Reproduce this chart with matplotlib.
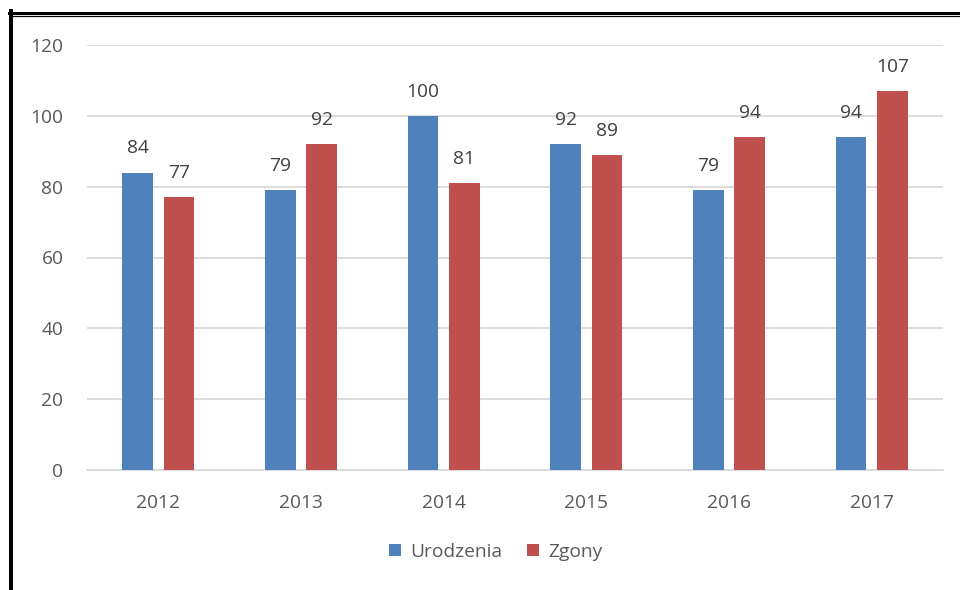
import matplotlib
matplotlib.use("Agg")
import matplotlib.pyplot as plt
from matplotlib.lines import Line2D
import numpy as np

years = ["2012", "2013", "2014", "2015", "2016", "2017"]
urodzenia = [84, 79, 100, 92, 79, 94]
zgony = [77, 92, 81, 89, 94, 107]
yticks = [0, 20, 40, 60, 80, 100, 120]

plt.rcParams['font.family'] = ['Open Sans', 'DejaVu Sans']

W, H = 960, 590
fig = plt.figure(figsize=(W / 100, H / 100), dpi=100)
ax = fig.add_axes([87 / W, 1 - 470 / H, (943 - 87) / W, (470 - 45) / H])

x = np.arange(len(years))
bw = 0.215
off = 0.145
blue = "#4F81BD"
red = "#C0504D"
fs = 13.8
b1 = ax.bar(x - off, urodzenia, bw, color=blue, label="Urodzenia", zorder=3)
b2 = ax.bar(x + off, zgony, bw, color=red, label="Zgony", zorder=3)

for bars, vals in ((b1, urodzenia), (b2, zgony)):
    for r, v in zip(bars, vals):
        ax.annotate(str(v), (r.get_x() + r.get_width() / 2, v), xytext=(0, 11),
                    textcoords="offset points", ha="center", va="bottom",
                    fontsize=fs, color="#404040")

ax.set_xlim(-0.5, len(years) - 0.5)
ax.set_ylim(0, 120)
ax.set_yticks(yticks)
ax.set_yticklabels([str(t) for t in yticks])
ax.set_xticks(x)
ax.set_xticklabels(years)
ax.grid(axis="y", color="#D9D9D9", linewidth=1.3, zorder=0)
for s in ("top", "right", "left"):
    ax.spines[s].set_visible(False)
ax.spines["bottom"].set_color("#D9D9D9")
ax.spines["bottom"].set_linewidth(1.3)
ax.tick_params(axis="both", length=0, labelsize=fs, labelcolor="#595959")
ax.tick_params(axis="y", pad=17)
ax.tick_params(axis="x", pad=17)

fig.legend(handles=[b1, b2], loc="center", bbox_to_anchor=(496 / W, 1 - 552 / H),
           ncol=2, frameon=False, fontsize=fs, handlelength=0.6, handleheight=0.6,
           handletextpad=0.5, columnspacing=1.3, labelcolor="#595959")

# frame lines (top double, left thick)
fig.add_artist(Line2D([9 / W, 1], [1 - 12.5 / H] * 2, color="black", lw=3 * 0.72,
                      transform=fig.transFigure))
fig.add_artist(Line2D([9 / W, 1], [1 - 15.8 / H] * 2, color="black", lw=1.2 * 0.72,
                      transform=fig.transFigure))
fig.add_artist(Line2D([10.5 / W] * 2, [1 - 11 / H, 0], color="black", lw=4 * 0.72,
                      transform=fig.transFigure))

fig.savefig("out.png", dpi=100)
